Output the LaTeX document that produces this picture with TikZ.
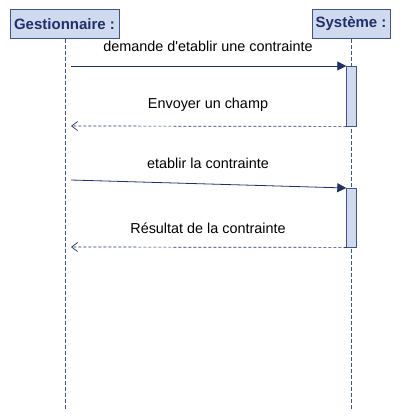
\documentclass[tikz,border=0pt]{standalone}
\usepackage{fontspec}
\setmainfont{Liberation Sans}
\usetikzlibrary{arrows.meta,positioning,calc}
\definecolor{lifeblue}{HTML}{D0DAEF}
\definecolor{edgeblue}{HTML}{3A5590}
\definecolor{textblue}{HTML}{1F2F6B}
\definecolor{msgblue}{HTML}{1F3264}

\begin{document}
\begin{tikzpicture}[x=1pt,y=-1pt,
  obj/.style={rectangle,draw=edgeblue,fill=lifeblue,inner sep=2pt,minimum height=29pt,font=\fontsize{15}{17}\selectfont\bfseries,text=textblue},
  act/.style={rectangle,draw=edgeblue,fill=lifeblue,minimum width=10pt,inner sep=0pt},
  life/.style={draw=edgeblue,dash pattern=on 4pt off 2pt},
  msg/.style={draw=msgblue,thick,-{Triangle[length=9pt,width=9pt]}},
  ret/.style={draw=msgblue,line width=0.7pt,dash pattern=on 3pt off 2pt,-{Straight Barb[length=6pt,width=9pt]}},
  lbl/.style={font=\fontsize{14.4}{17}\selectfont}
]
\useasboundingbox (0,0) rectangle (400,420);
\node[obj,minimum width=109pt] (gest) at (64.5,24) {Gestionnaire :};
\node[obj,minimum width=78pt] (sys) at (351,24) {Système :};

\coordinate (gestend) at (65,410);
\coordinate (sysend) at (351.5,410);
\draw[life] (gest.south -| gestend) -- (gestend);
\draw[life] (sys.south -| sysend) -- (sysend);

\node[act,minimum height=60pt,anchor=north] (act1) at (351.5,66) {};
\node[act,minimum height=59pt,anchor=north] (act2) at (351.5,188) {};

% messages
\coordinate (send1) at (71,66);
\coordinate (back1) at (71,126);
\coordinate (send2) at (71,180);
\coordinate (back2) at (71,247);
\draw[msg] (send1) -- (act1.north west);
\draw[ret] (act1.south west) -- (back1);
\draw[msg] (send2) -- (act2.north west);
\draw[ret] (act2.south west) -- (back2);

\node[lbl] (l1) at (208,46) {demande d\textquotesingle etablir une contrainte};
\node[lbl] (l2) at (208,105) {Envoyer un champ};
\node[lbl] (l3) at (208,163) {etablir la contrainte};
\node[lbl] (l4) at (208,228) {Résultat de la contrainte};
\end{tikzpicture}
\end{document}
